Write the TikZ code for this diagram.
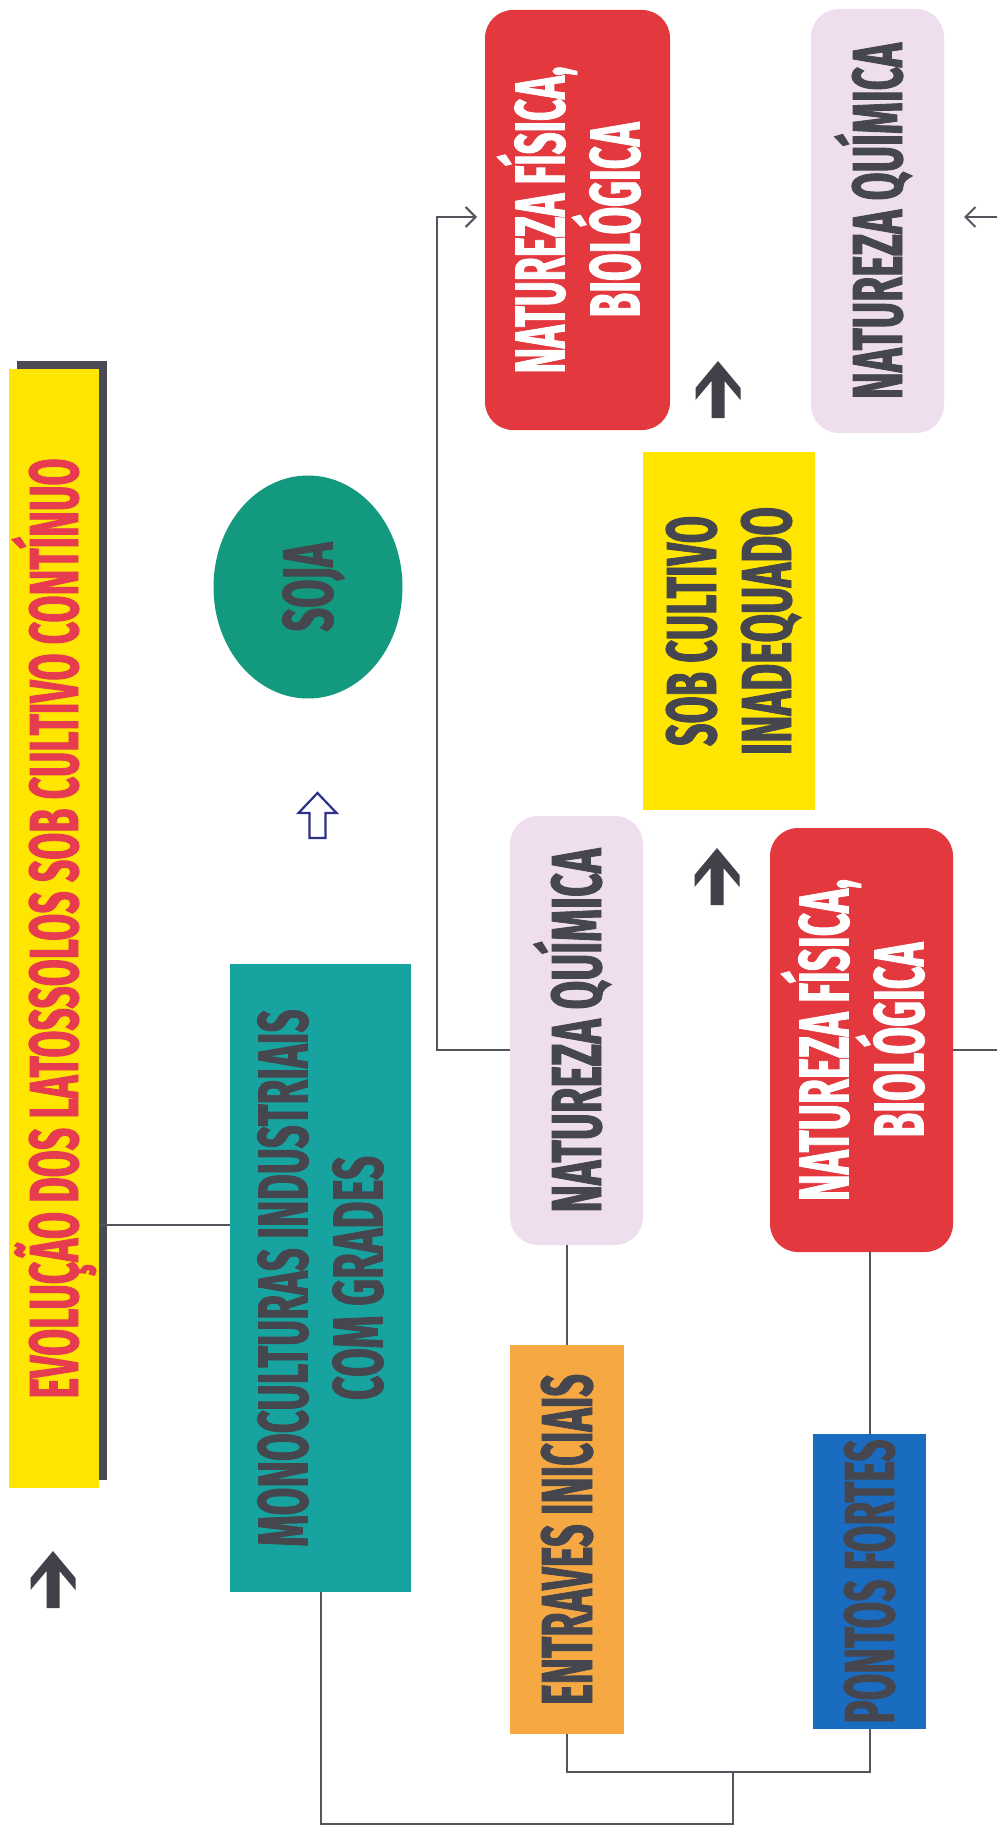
\documentclass[tikz,border=0pt]{standalone}
\usepackage{fontspec}
\setmainfont{Fira Sans}[FakeStretch=0.55, FakeBold=1.2]
\usetikzlibrary{shapes.geometric,arrows.meta}

\definecolor{titleyellow}{HTML}{FFE600}
\definecolor{titlered}{HTML}{E73B50}
\definecolor{shadowgray}{HTML}{4A4A55}
\definecolor{monoteal}{HTML}{17A4A1}
\definecolor{sojagreen}{HTML}{12997E}
\definecolor{boxred}{HTML}{E3383E}
\definecolor{lavender}{HTML}{EFDFEE}
\definecolor{boxorange}{HTML}{F6A843}
\definecolor{boxblue}{HTML}{1A6CC1}
\definecolor{boxyellow}{HTML}{FFE500}
\definecolor{ink}{HTML}{46464F}
\definecolor{conngray}{HTML}{55555E}
\definecolor{arrowgray}{HTML}{414149}
\definecolor{navy}{HTML}{2C3188}

% one line of condensed capitals: fixed length (#2) and cap height (#1)
\newcommand\tl[3][49]{\resizebox{#2pt}{#1pt}{\rule{0pt}{\fontcharht\font`H}\smash{#3}}}
% two lines, read bottom to top
\newcommand\twolines[2]{\rotatebox{90}{\def\arraystretch{0}\setlength\tabcolsep{0pt}%
  \begin{tabular}{c}#1\\[26pt]#2\end{tabular}}}
\newcommand\oneline[1]{\rotatebox{90}{#1}}

\tikzset{
  box/.style={inner sep=0pt, outer sep=0pt, text=ink,
    font=\fontsize{40}{48}\selectfont\bfseries},
  dims/.style 2 args={minimum width=#1pt, minimum height=#2pt},
  sqbox/.style={box, rectangle},
  rndbox/.style={box, rectangle, rounded corners=28pt},
  conn/.style={draw=conngray, line width=2pt},
  barb/.style={-{Straight Barb[length=10pt,width=20pt,line width=2pt]}},
  bigarrow/.pic={
    \fill[arrowgray] (0,0) -- (22.5,27) -- (22.5,39) -- (6.5,20) -- (6.5,57)
      -- (-6.5,57) -- (-6.5,20) -- (-22.5,39) -- (-22.5,27) -- cycle;},
  hollowarrow/.pic={
    \draw[navy, line width=2.2pt, line join=miter] (0,0) -- (19,20) -- (8,20) -- (8,45)
      -- (-8,45) -- (-8,20) -- (-19,20) -- cycle;},
}

\begin{document}
\begin{tikzpicture}[x=1pt, y=-1pt]
\useasboundingbox[fill=white] (0,0) rectangle (997,1827);

% title banner with its dark offset shadow
\fill[shadowgray] (17,361) rectangle (107,1480);
\node[sqbox, fill=titleyellow, text=titlered, dims={90}{1119}] (title) at (54,928.5)
  {\oneline{\tl[48]{940}{EVOLUÇÃO DOS LATOSSOLOS SOB CULTIVO CONTÍNUO}}};

\node[sqbox, fill=monoteal, dims={181}{628}] (mono) at (320.5,1278)
  {\twolines{\tl{537}{MONOCULTURAS INDUSTRIAIS}}{\tl{244}{COM GRADES}}};

\node[box, ellipse, fill=sojagreen, dims={189}{223}] (soja) at (308,587)
  {\oneline{\tl{89}{SOJA}}};

\node[rndbox, fill=boxred, text=white, dims={185}{420}] (redtop) at (577.5,220)
  {\twolines{\tl{307}{NATUREZA FÍSICA,}}{\tl{195}{BIOLÓGICA}}};

\node[rndbox, fill=lavender, dims={133}{424}] (nqtop) at (877.5,221)
  {\oneline{\tl{356}{NATUREZA QUÍMICA}}};

\node[sqbox, fill=boxyellow, dims={172}{358}] (sob) at (729,631)
  {\twolines{\tl{230}{SOB CULTIVO}}{\tl{248}{INADEQUADO}}};

\node[rndbox, fill=lavender, dims={133}{429}] (nqm) at (576.5,1030.5)
  {\oneline{\tl{364}{NATUREZA QUÍMICA}}};

\node[rndbox, fill=boxred, text=white, dims={183}{424}] (redm) at (861.5,1040)
  {\twolines{\tl{322}{NATUREZA FÍSICA,}}{\tl{195}{BIOLÓGICA}}};

\node[sqbox, fill=boxorange, dims={114}{389}] (entr) at (567,1539.5)
  {\oneline{\tl[50]{331}{ENTRAVES INICIAIS}}};

\node[sqbox, fill=boxblue, dims={113}{295}] (pontos) at (869.5,1581.5)
  {\oneline{\tl{284}{PONTOS FORTES}}};

% free ends and bends of the connectors
\coordinate (rowT) at (0,1225);
\coordinate (rowA) at (0,1050);
\coordinate (topline) at (0,217);
\coordinate (leftbus) at (437,0);
\coordinate (edgeR) at (997,0);
\coordinate (bus) at (0,1824);
\coordinate (split) at (733,1772);

\draw[conn] (title.east |- rowT) -- (mono.west |- rowT);
\draw[conn] (mono.south) |- (split |- bus) -- (split);
\draw[conn] (entr.south) |- (split) -| (pontos.south);
\draw[conn] (entr.north) -- (entr.north |- nqm.south);
\draw[conn] (pontos.north) -- (pontos.north |- redm.south);
\draw[conn, barb] (nqm.west |- rowA) -| (leftbus |- topline)
  -- ([xshift=-8pt]redtop.west |- topline);
\draw[conn] (redm.east |- rowA) -- (edgeR |- rowA);
\draw[conn, barb] (edgeR |- topline) -- ([xshift=20pt]nqtop.east |- topline);

% solid upward arrows and the outlined one
\pic at (718,361) {bigarrow};
\pic at (717,848) {bigarrow};
\pic at (53,1551) {bigarrow};
\pic at (317.5,793) {hollowarrow};
\end{tikzpicture}
\end{document}
